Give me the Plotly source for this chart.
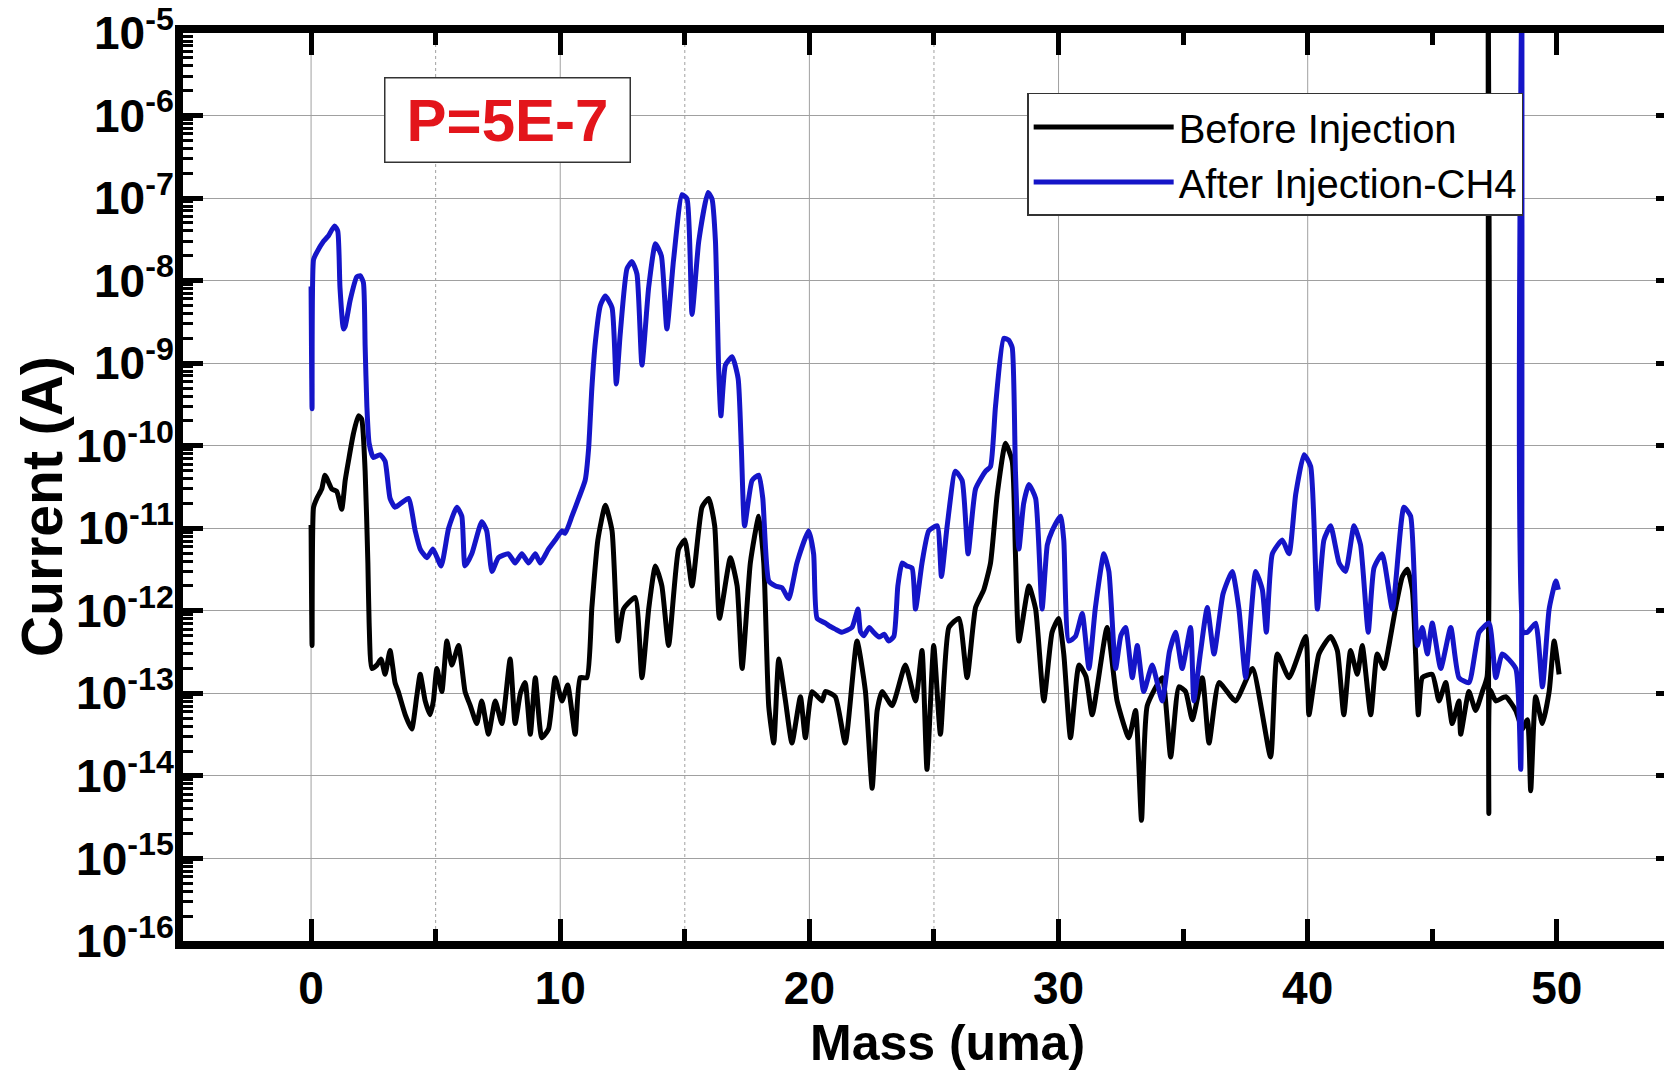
import plotly.graph_objects as go

# ---------------- data ----------------
mass_before = [0.00, 0.04, 0.10, 0.23, 0.43, 0.56, 0.83, 1.03, 1.23, 1.37, 1.50, 1.70, 1.90, 2.03,
               2.17, 2.28, 2.33, 2.44, 2.64, 2.81, 2.97, 3.17, 3.37, 3.50, 3.78, 4.04, 4.24, 4.38,
               4.58, 4.78, 4.91, 5.05, 5.25, 5.45, 5.65, 5.92, 6.18, 6.39, 6.65, 6.85, 7.12, 7.39,
               7.66, 7.99, 8.19, 8.40, 8.59, 8.80, 9.00, 9.26, 9.53, 9.80, 10.07, 10.30, 10.60,
               10.80, 11.07, 11.27, 11.51, 11.81, 12.08, 12.32, 12.54, 13.01, 13.28, 13.55, 13.82,
               14.08, 14.35, 14.75, 15.00, 15.29, 15.69, 15.96, 16.20, 16.39, 16.83, 17.10, 17.30,
               17.63, 17.97, 18.17, 18.37, 18.57, 18.77, 19.04, 19.30, 19.64, 19.84, 20.11, 20.51,
               20.64, 21.04, 21.44, 21.91, 22.25, 22.52, 22.72, 22.92, 23.32, 23.85, 24.26, 24.52,
               24.72, 24.99, 25.26, 25.60, 26.00, 26.33, 26.67, 27.00, 27.27, 27.54, 27.87, 28.14,
               28.27, 28.41, 28.81, 29.08, 29.41, 29.74, 30.00, 30.21, 30.48, 30.82, 31.10, 31.35,
               31.95, 32.35, 32.82, 33.09, 33.33, 33.56, 34.16, 34.50, 34.83, 35.10, 35.37, 35.77,
               36.04, 36.44, 37.10, 37.78, 38.51, 38.78, 39.25, 39.92, 40.05, 40.45, 40.92, 41.19,
               41.45, 41.72, 41.99, 42.19, 42.53, 42.79, 43.06, 43.26, 43.53, 43.80, 44.00, 44.20,
               44.33, 44.44, 44.60, 45.00, 45.27, 45.54, 45.80, 46.07, 46.14, 46.47, 46.74, 47.01,
               47.20, 47.24, 47.27, 47.32, 47.55, 47.95, 48.35, 48.62, 48.82, 48.95, 49.15, 49.42,
               49.69, 49.89, 50.09]
current_before = [1.1e-11, 3.8e-13, 1.8e-11, 2.3e-11, 3.0e-11, 4.4e-11, 3.0e-11, 2.8e-11, 1.7e-11,
                  3.8e-11, 6.5e-11, 1.4e-10, 2.3e-10, 2.1e-10, 4.9e-11, 3.8e-12, 7.2e-13, 2.0e-13,
                  2.2e-13, 2.6e-13, 1.7e-13, 3.3e-13, 1.35e-13, 1.05e-13, 5.5e-14, 3.7e-14, 9.1e-14,
                  1.7e-13, 8.1e-14, 5.5e-14, 8.1e-14, 2.0e-13, 1.05e-13, 4.3e-13, 2.2e-13, 3.8e-13,
                  1.05e-13, 7.1e-14, 4.3e-14, 8.1e-14, 3.2e-14, 8.1e-14, 4.3e-14, 2.6e-13, 4.3e-14,
                  1.0e-13, 1.35e-13, 3.2e-14, 1.55e-13, 2.9e-14, 3.7e-14, 1.55e-13, 8.1e-14,
                  1.26e-13, 3.2e-14, 1.55e-13, 1.55e-13, 1.1e-12, 7.2e-12, 1.9e-11, 9.3e-12,
                  4.3e-13, 1.05e-12, 1.45e-12, 1.55e-13, 1.05e-12, 3.5e-12, 2.0e-12, 3.8e-13,
                  5.6e-12, 7.2e-12, 2.0e-12, 1.8e-11, 2.3e-11, 1.07e-11, 8.1e-13, 4.4e-12, 2.0e-12,
                  2.0e-13, 3.8e-12, 1.4e-11, 3.8e-12, 6.9e-14, 2.5e-14, 2.6e-13, 8.1e-14, 2.5e-14,
                  9.1e-14, 2.9e-14, 1.05e-13, 8.1e-14, 1.05e-13, 9.1e-14, 2.5e-14, 4.3e-13,
                  1.05e-13, 7.1e-15, 6.2e-14, 1.05e-13, 7.1e-14, 2.2e-13, 8.1e-14, 3.3e-13, 1.2e-14,
                  3.8e-13, 3.2e-14, 6.3e-13, 8.1e-13, 1.55e-13, 1.1e-12, 1.8e-12, 3.8e-12, 2.6e-11,
                  1.07e-10, 6.5e-11, 4.9e-12, 4.3e-13, 2.0e-12, 1.05e-12, 8.1e-14, 5.5e-13, 8.1e-13,
                  3.0e-13, 2.9e-14, 2.2e-13, 1.6e-13, 5.5e-14, 6.3e-13, 8.1e-14, 2.9e-14, 6.2e-14,
                  2.9e-15, 7.1e-14, 1.55e-13, 1.7e-14, 1.2e-13, 1.05e-13, 4.8e-14, 1.55e-13, 2.5e-14,
                  1.35e-13, 8.1e-14, 2.0e-13, 1.7e-14, 3.0e-13, 1.55e-13, 4.9e-13, 5.5e-14, 3.0e-13,
                  4.9e-13, 3.3e-13, 5.5e-14, 3.3e-13, 1.7e-13, 3.8e-13, 5.5e-14, 3.0e-13, 2.0e-13,
                  3.8e-13, 1.1e-12, 2.6e-12, 3.2e-12, 1.8e-12, 3.0e-13, 5.5e-14, 1.55e-13, 1.7e-13,
                  8.1e-14, 1.35e-13, 4.3e-14, 8.1e-14, 3.2e-14, 1.05e-13, 6.2e-14, 1.05e-13, 1.6e-13,
                  1.0e-4, 3.5e-15, 1.1e-13, 8.1e-14, 9.1e-14, 6.2e-14, 3.7e-14, 4.8e-14, 6.6e-15,
                  9.1e-14, 4.3e-14, 1.05e-13, 4.3e-13, 1.7e-13]

mass_after = [0.00, 0.04, 0.10, 0.23, 0.50, 0.70, 0.94, 1.07, 1.16, 1.30, 1.37, 1.57, 1.83, 1.97,
              2.10, 2.17, 2.24, 2.33, 2.50, 2.77, 2.97, 3.17, 3.37, 3.60, 3.91, 4.18, 4.38, 4.65,
              4.89, 5.22, 5.52, 5.85, 6.05, 6.18, 6.45, 6.85, 7.05, 7.26, 7.52, 7.92, 8.19, 8.46,
              8.73, 9.00, 9.20, 9.53, 9.80, 10.07, 10.20, 10.47, 10.74, 11.00, 11.14, 11.27, 11.41,
              11.61, 11.81, 12.08, 12.25, 12.41, 12.68, 12.88, 13.08, 13.28, 13.55, 13.82, 14.06,
              14.28, 14.55, 14.89, 15.09, 15.29, 15.56, 15.93, 16.09, 16.23, 16.36, 16.45, 16.63,
              16.90, 17.14, 17.27, 17.40, 17.70, 17.97, 18.13, 18.37, 18.64, 18.90, 19.17, 19.50,
              19.97, 20.17, 20.31, 20.64, 20.78, 21.04, 21.31, 21.71, 21.95, 22.05, 22.18, 22.40,
              22.58, 22.80, 23.00, 23.18, 23.39, 23.55, 23.72, 23.90, 24.12, 24.26, 24.52, 24.79,
              25.13, 25.30, 25.53, 25.86, 26.13, 26.37, 26.67, 27.07, 27.27, 27.47, 27.80, 28.00,
              28.14, 28.27, 28.41, 28.60, 28.81, 29.08, 29.34, 29.55, 29.74, 30.08, 30.21, 30.41,
              30.68, 30.95, 31.22, 31.48, 31.82, 32.02, 32.29, 32.50, 32.69, 32.96, 33.16, 33.42,
              33.76, 34.16, 34.45, 34.70, 34.96, 35.30, 35.43, 35.70, 35.97, 36.24, 36.60, 36.97,
              37.24, 37.51, 37.91, 38.18, 38.34, 38.58, 38.98, 39.25, 39.52, 39.85, 40.12, 40.39,
              40.65, 40.92, 41.26, 41.52, 41.86, 42.12, 42.43, 42.66, 42.99, 43.40, 43.86, 44.13,
              44.40, 44.60, 44.80, 45.00, 45.34, 45.74, 46.07, 46.47, 46.88, 47.28, 47.55, 47.81,
              48.35, 48.55, 48.60, 48.65, 48.82, 49.15, 49.42, 49.69, 49.96, 50.06]
current_after = [8.5e-9, 2.8e-10, 1.8e-8, 2.2e-8, 3.0e-8, 3.5e-8, 4.6e-8, 4.0e-8, 8.3e-9, 2.6e-9,
                 2.8e-9, 5.8e-9, 1.1e-8, 1.15e-8, 9.5e-9, 1.6e-9, 3.0e-10, 1.07e-10, 7.2e-11,
                 7.8e-11, 6.5e-11, 2.3e-11, 1.8e-11, 2.0e-11, 2.3e-11, 9.3e-12, 5.6e-12, 4.4e-12,
                 5.6e-12, 3.5e-12, 1.0e-11, 1.8e-11, 1.4e-11, 3.5e-12, 4.9e-12, 1.2e-11, 9.3e-12,
                 3.0e-12, 4.4e-12, 4.9e-12, 3.8e-12, 4.9e-12, 3.8e-12, 4.9e-12, 3.8e-12, 5.6e-12,
                 7.2e-12, 9.3e-12, 8.7e-12, 1.4e-11, 2.3e-11, 3.8e-11, 9.3e-11, 5.0e-10, 1.8e-9,
                 5.0e-9, 6.5e-9, 4.7e-9, 5.6e-10, 2.3e-9, 1.4e-8, 1.7e-8, 1.2e-8, 9.5e-10, 8.3e-9,
                 2.8e-8, 2.0e-8, 2.6e-9, 1.8e-8, 1.1e-7, 9.8e-8, 3.9e-9, 3.0e-8, 1.17e-7, 9.8e-8,
                 3.0e-8, 8.3e-10, 2.3e-10, 9.5e-10, 1.2e-9, 6.5e-10, 9.3e-11, 1.07e-11, 3.8e-11,
                 4.4e-11, 2.3e-11, 2.3e-12, 2.0e-12, 1.9e-12, 1.4e-12, 3.8e-12, 9.3e-12, 4.9e-12,
                 8.1e-13, 7.1e-13, 6.6e-13, 6.0e-13, 5.5e-13, 6.3e-13, 1.05e-12, 5.6e-13, 5.0e-13,
                 6.3e-13, 5.5e-13, 4.8e-13, 5.2e-13, 4.3e-13, 4.9e-13, 2.0e-12, 3.8e-12, 3.5e-12,
                 3.3e-12, 1.05e-12, 3.8e-12, 9.3e-12, 1.07e-11, 2.6e-12, 1.07e-11, 4.9e-11, 3.8e-11,
                 4.9e-12, 3.0e-11, 4.9e-11, 5.6e-11, 3.0e-10, 2.0e-9, 1.9e-9, 1.55e-9, 4.9e-11,
                 5.6e-12, 2.0e-11, 3.4e-11, 2.3e-11, 1.05e-12, 6.3e-12, 9.3e-12, 1.4e-11, 7.2e-12,
                 4.3e-13, 4.9e-13, 9.3e-13, 2.0e-13, 1.1e-12, 4.9e-12, 3.0e-12, 2.0e-13, 5.0e-13,
                 6.3e-13, 1.55e-13, 3.8e-13, 1.05e-13, 2.2e-13, 8.1e-14, 3.2e-13, 5.5e-13, 2.0e-13,
                 6.3e-13, 8.1e-14, 3.2e-13, 1.1e-12, 3.0e-13, 1.6e-12, 3.0e-12, 1.05e-12, 1.55e-13,
                 3.0e-12, 1.8e-12, 5.5e-13, 4.9e-12, 7.2e-12, 4.9e-12, 2.6e-11, 7.8e-11, 5.6e-11,
                 1.05e-12, 7.2e-12, 1.07e-11, 3.8e-12, 3.0e-12, 1.07e-11, 6.3e-12, 5.5e-13, 3.3e-12,
                 4.9e-12, 1.05e-12, 1.8e-11, 1.4e-11, 3.8e-13, 6.3e-13, 3.0e-13, 7.1e-13, 2.0e-13,
                 6.3e-13, 1.55e-13, 1.35e-13, 5.5e-13, 7.1e-13, 1.55e-13, 3.0e-13, 2.0e-13, 1.2e-14,
                 1.0e-4, 5.5e-13, 5.5e-13, 7.1e-13, 1.2e-13, 1.05e-12, 2.3e-12, 1.8e-12]

x_tick_vals = [0, 10, 20, 30, 40, 50]
x_minor_vals = [5, 15, 25, 35, 45]
x_solid_grid = [0, 10, 20, 30, 40]
x_dotted_grid = [5, 15, 25]
y_exponents = list(range(-16, -4))
y_tick_vals = [10.0 ** e for e in y_exponents]
y_tick_text = ["10<sup>%d</sup>" % e for e in y_exponents]
y_minor_vals = [k * 10.0 ** e for e in range(-16, -5) for k in range(2, 10)]

FONT = "Liberation Sans, Arial, sans-serif"
BLUE = "#1515C8"

fig = go.Figure()
fig.add_trace(go.Scatter(x=mass_before, y=current_before, mode="lines", name="Before Injection",
                         line=dict(color="black", width=5, shape="spline", smoothing=0.5)))
fig.add_trace(go.Scatter(x=mass_after, y=current_after, mode="lines", name="After Injection-CH4",
                         line=dict(color=BLUE, width=5, shape="spline", smoothing=0.5)))
# empty trace that only carries the right-hand tick axis
fig.add_trace(go.Scatter(x=[None], y=[None], yaxis="y2", mode="lines", showlegend=False,
                         hoverinfo="skip"))

shapes = []
for xv in x_solid_grid:
    shapes.append(dict(type="line", xref="x", yref="paper", x0=xv, x1=xv, y0=0, y1=1,
                       line=dict(color="#A0A0A0", width=1), layer="below"))
for xv in x_dotted_grid:
    shapes.append(dict(type="line", xref="x", yref="paper", x0=xv, x1=xv, y0=0, y1=1,
                       line=dict(color="#A0A0A0", width=1, dash="dot"), layer="below"))

fig.update_layout(
    width=1664, height=1075,
    margin=dict(l=183, r=0, t=33, b=134),
    paper_bgcolor="white", plot_bgcolor="white",
    font=dict(family=FONT, color="black"),
    shapes=shapes,
    xaxis=dict(
        range=[-5.14, 54.3], showgrid=False, zeroline=False,
        showline=True, linecolor="black", linewidth=8, mirror="ticks",
        tickmode="array", tickvals=x_tick_vals, ticktext=[str(v) for v in x_tick_vals],
        ticks="inside", ticklen=22, tickwidth=5, tickcolor="black",
        ticklabelstandoff=0,
        tickfont=dict(family=FONT, size=46, weight="bold"),
        minor=dict(tickmode="array", tickvals=x_minor_vals, ticks="inside", ticklen=12,
                   tickwidth=5, tickcolor="black", showgrid=False),
    ),
    yaxis=dict(
        type="log", range=[-16, -5], showgrid=True, gridcolor="#A0A0A0", gridwidth=1,
        zeroline=False, showline=True, linecolor="black", linewidth=8, mirror=False,
        tickmode="array", tickvals=y_tick_vals, ticktext=y_tick_text,
        ticks="inside", ticklen=20, tickwidth=5, tickcolor="black",
        ticklabelstandoff=-8,
        tickfont=dict(family=FONT, size=46, weight="bold"),
        minor=dict(tickmode="array", tickvals=y_minor_vals, ticks="inside", ticklen=10,
                   tickwidth=3, tickcolor="black", showgrid=False),
    ),
    yaxis2=dict(
        type="log", range=[-16, -5], overlaying="y", side="right", showgrid=False,
        zeroline=False, showline=False, tickmode="array", tickvals=y_tick_vals,
        ticks="inside", ticklen=8, tickwidth=5, tickcolor="black", showticklabels=False,
    ),
    legend=dict(
        x=0.570, y=0.934, xanchor="left", yanchor="top",
        bgcolor="white", bordercolor="#333333", borderwidth=1.5,
        font=dict(family=FONT, size=40, color="black"),
        itemwidth=140, tracegroupgap=0,
    ),
    annotations=[
        dict(text="P=5E-7", xref="paper", yref="paper", x=0.2188, y=0.904,
             xanchor="center", yanchor="middle", showarrow=False,
             font=dict(family=FONT, size=60, color="#E3151B", weight="bold"),
             bgcolor="white", bordercolor="#333333", borderwidth=1.5,
             width=242, height=81),
        dict(text="Mass (uma)", xref="paper", yref="paper", x=0.5165, y=-0.1123,
             xanchor="center", yanchor="middle", showarrow=False,
             font=dict(family=FONT, size=50, color="black", weight="bold")),
        dict(text="Current (A)", xref="paper", yref="paper", x=-0.0952, y=0.478,
             xanchor="center", yanchor="middle", showarrow=False, textangle=-90,
             font=dict(family=FONT, size=57, color="black", weight="bold")),
    ],
)

fig.write_html("out.html")
